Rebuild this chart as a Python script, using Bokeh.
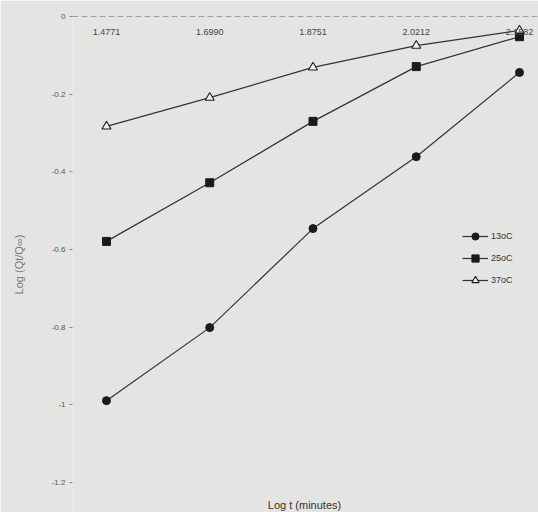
from bokeh.plotting import figure
from bokeh.models import FixedTicker, Legend, LegendItem, Label
from bokeh.embed import file_html
from bokeh.resources import INLINE

# ---- data ----
log_t_labels = ["1.4771", "1.6990", "1.8751", "2.0212", "2.1582"]
x_idx = [0, 1, 2, 3, 4]
y_13 = [-0.989, -0.801, -0.546, -0.361, -0.144]
y_25 = [-0.579, -0.428, -0.270, -0.129, -0.052]
y_37 = [-0.283, -0.209, -0.131, -0.075, -0.036]
series_names = ["13oC", "25oC", "37oC"]
y_ticks = [0, -0.2, -0.4, -0.6, -0.8, -1.0, -1.2]
y_tick_labels = ["0", "-0.2", "-0.4", "-0.6", "-0.8", "-1", "-1.2"]

BG = "#e4e4e2"
INK = "#333333"
FONT = "Liberation Sans"

p = figure(width=538, height=512, output_backend="svg", toolbar_location=None,
           x_range=(-0.329, 4.184), y_range=(-1.277, 0.0), x_axis_location="above",
           min_border_left=72, min_border_top=16, min_border_right=0, min_border_bottom=0,
           background_fill_color=BG, border_fill_color=BG, outline_line_color=None)
p.grid.visible = False

# x axis (top)
xa = p.xaxis[0]
xa.ticker = FixedTicker(ticks=x_idx)
xa.major_label_overrides = {i: lab for i, lab in zip(x_idx, log_t_labels)}
xa.major_label_standoff = -24
xa.major_tick_line_color = None
xa.minor_tick_line_color = None
xa.axis_line_color = "#a0a0a0"
xa.axis_line_dash = "6 3"
xa.major_label_text_font = FONT
xa.major_label_text_font_size = "9px"
xa.major_label_text_color = "#444444"

# y axis (left)
ya = p.yaxis[0]
ya.ticker = FixedTicker(ticks=y_ticks)
ya.major_label_overrides = {t: lab for t, lab in zip(y_ticks, y_tick_labels)}
ya.axis_line_color = None
ya.minor_tick_line_color = None
ya.major_tick_line_color = "#888888"
ya.major_tick_out = 3
ya.major_tick_in = 0
ya.major_label_standoff = 4
ya.major_label_text_font = FONT
ya.major_label_text_font_size = "8px"
ya.major_label_text_color = "#555555"
ya.axis_label = "Log (Qt/Q\u221e)"
ya.axis_label_standoff = 24
ya.axis_label_text_font = FONT
ya.axis_label_text_font_size = "11px"
ya.axis_label_text_font_style = "normal"
ya.axis_label_text_color = "#777777"

# series
l13 = p.line(x_idx, y_13, line_color=INK, line_width=1.2)
m13 = p.scatter(x_idx, y_13, marker="circle", size=8, fill_color="#1a1a1a", line_color="#1a1a1a")
l25 = p.line(x_idx, y_25, line_color=INK, line_width=1.2)
m25 = p.scatter(x_idx, y_25, marker="square", size=8, fill_color="#1a1a1a", line_color="#1a1a1a")
l37 = p.line(x_idx, y_37, line_color=INK, line_width=1.2)
m37 = p.scatter(x_idx, y_37, marker="triangle", size=9, fill_color="#f2f2f0", line_color="#1a1a1a",
                line_width=1.1)

legend = Legend(items=[
    LegendItem(label=series_names[0], renderers=[l13, m13]),
    LegendItem(label=series_names[1], renderers=[l25, m25]),
    LegendItem(label=series_names[2], renderers=[l37, m37]),
], location=(390, 223), orientation="vertical",
    background_fill_alpha=0, border_line_color=None,
    label_text_font=FONT, label_text_font_size="9px", label_text_color="#333333",
    glyph_width=26, glyph_height=18, label_height=18, spacing=4, padding=0, margin=0,
    label_standoff=3)
p.add_layout(legend, "center")

# x axis title at the bottom of the plot area
p.add_layout(Label(x=232, y=8, x_units="screen", y_units="screen", text="Log t (minutes)",
                   text_align="center", text_baseline="middle", text_font=FONT,
                   text_font_size="11px", text_color="#333333"))

open("out.html", "w").write(file_html(p, INLINE))
